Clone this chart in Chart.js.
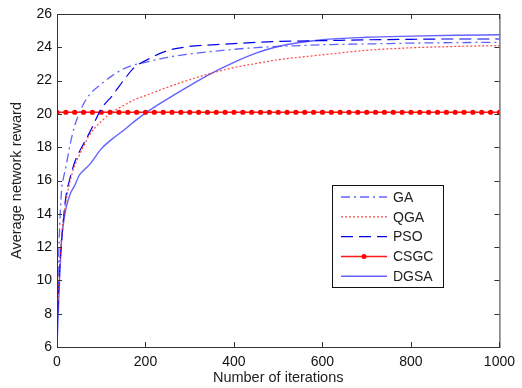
<!DOCTYPE html>
<html>
<head>
<meta charset="utf-8">
<script src="https://cdn.jsdelivr.net/npm/chart.js@4"></script>
<style>
  html, body { margin: 0; padding: 0; background: #fff; }
  #wrap { width: 522px; height: 388px; }
</style>
</head>
<body>
<div id="wrap"><canvas id="chart-1" width="522" height="388"></canvas></div>
<script>
// iterations shared by the four curves
const iterations = [0, 5, 10, 15, 20, 30, 40, 50, 60, 75, 100, 125, 150, 175, 200,
  250, 300, 350, 400, 450, 500, 600, 700, 800, 900, 1000];

const gaValues = [8, 12.5, 15.3, 16.2, 16.8, 18.2, 19.3, 20.0, 20.6, 21.2, 21.8, 22.3, 22.7, 22.95, 23.1,
  23.4, 23.6, 23.75, 23.88, 23.98, 24.05, 24.15, 24.2, 24.25, 24.28, 24.3];
const qgaValues = [7.5, 10.5, 12.5, 13.8, 14.7, 16.0, 16.9, 17.5, 18.05, 18.8, 19.55, 20.1, 20.5, 20.85, 21.1,
  21.6, 22.05, 22.45, 22.78, 23.03, 23.25, 23.55, 23.82, 23.97, 24.05, 24.1];
const psoValues = [7, 10.2, 12.2, 13.8, 15.0, 16.2, 17.1, 17.7, 18.2, 18.95, 20.3, 21.1, 22.0, 22.8, 23.2,
  23.8, 24.05, 24.15, 24.22, 24.3, 24.35, 24.4, 24.45, 24.48, 24.5, 24.5];
const dgsaValues = [6, 9.5, 12.3, 13.5, 14.3, 15.2, 15.7, 16.3, 16.6, 17.0, 17.9, 18.5, 19.0, 19.55, 20.05,
  20.9, 21.7, 22.45, 23.1, 23.65, 24.05, 24.45, 24.6, 24.67, 24.72, 24.75];

// CSGC is flat, marked every 20 iterations
const csgcIterations = [0, 20, 40, 60, 80, 100, 120, 140, 160, 180, 200, 220, 240, 260, 280, 300,
  320, 340, 360, 380, 400, 420, 440, 460, 480, 500, 520, 540, 560, 580, 600, 620, 640, 660, 680, 700,
  720, 740, 760, 780, 800, 820, 840, 860, 880, 900, 920, 940, 960, 980, 1000];
const csgcValues = [20.1, 20.1, 20.1, 20.1, 20.1, 20.1, 20.1, 20.1, 20.1, 20.1, 20.1, 20.1, 20.1, 20.1, 20.1, 20.1,
  20.1, 20.1, 20.1, 20.1, 20.1, 20.1, 20.1, 20.1, 20.1, 20.1, 20.1, 20.1, 20.1, 20.1, 20.1, 20.1, 20.1, 20.1, 20.1, 20.1,
  20.1, 20.1, 20.1, 20.1, 20.1, 20.1, 20.1, 20.1, 20.1, 20.1, 20.1, 20.1, 20.1, 20.1, 20.1];

const xTicks = [0, 200, 400, 600, 800, 1000];
const yTicks = [6, 8, 10, 12, 14, 16, 18, 20, 22, 24, 26];

const pts = (xs, ys) => xs.map((x, i) => ({ x: x, y: ys[i] }));

const FONT = "'Liberation Sans', Arial, sans-serif";

// MATLAB-like box, inward ticks and boxed legend
const matlabBox = {
  id: "matlabBox",
  afterDraw(chart) {
    const { ctx, chartArea: a, scales } = chart;
    ctx.save();
    ctx.strokeStyle = "#333";
    ctx.lineWidth = 1;
    ctx.strokeRect(a.left + 0.5, a.top + 0.5, a.right - a.left, a.bottom - a.top);
    ctx.beginPath();
    xTicks.forEach(v => {
      const x = Math.round(scales.x.getPixelForValue(v)) + 0.5;
      ctx.moveTo(x, a.bottom); ctx.lineTo(x, a.bottom - 5);
      ctx.moveTo(x, a.top); ctx.lineTo(x, a.top + 5);
    });
    yTicks.forEach(v => {
      const y = Math.round(scales.y.getPixelForValue(v)) + 0.5;
      ctx.moveTo(a.left, y); ctx.lineTo(a.left + 5, y);
      ctx.moveTo(a.right, y); ctx.lineTo(a.right - 5, y);
    });
    ctx.stroke();

    // legend
    const bx = 332, by = 185, bw = 111, bh = 102;
    ctx.fillStyle = "#fff";
    ctx.fillRect(bx, by, bw, bh);
    ctx.strokeStyle = "#111";
    ctx.strokeRect(bx + 0.5, by + 0.5, bw, bh);
    ctx.font = "14px " + FONT;
    ctx.textBaseline = "middle";
    chart.data.datasets.forEach((ds, i) => {
      const y = 197 + i * 19.8;
      ctx.strokeStyle = ds.borderColor;
      ctx.lineWidth = ds.borderWidth;
      ctx.setLineDash(ds.borderDash || []);
      ctx.beginPath();
      ctx.moveTo(341, y); ctx.lineTo(387, y);
      ctx.stroke();
      ctx.setLineDash([]);
      if (ds.pointRadius > 0) {
        ctx.fillStyle = ds.pointBackgroundColor;
        ctx.beginPath();
        ctx.arc(364, y, 2.5, 0, Math.PI * 2);
        ctx.fill();
      }
      ctx.fillStyle = "#222";
      ctx.fillText(ds.label, 393, y + 1);
    });
    ctx.restore();
  }
};

const curve = (label, data, color, dash, width) => ({
  label: label,
  data: data,
  borderColor: color,
  borderWidth: width,
  borderDash: dash,
  pointRadius: 0,
  cubicInterpolationMode: "monotone",
  fill: false
});

const ctx1 = document.getElementById("chart-1").getContext("2d");
const myChart = new Chart(ctx1, {
  type: "line",
  data: {
    datasets: [
      curve("GA", pts(iterations, gaValues), "rgba(70,70,255,0.85)", [9, 4, 2, 4], 1.3),
      curve("QGA", pts(iterations, qgaValues), "rgba(255,40,40,0.85)", [2, 2], 1.2),
      curve("PSO", pts(iterations, psoValues), "#0000ee", [12, 6], 1.2),
      {
        label: "CSGC",
        data: pts(csgcIterations, csgcValues),
        borderColor: "#ff1a1a",
        borderWidth: 1.5,
        pointRadius: 2.6,
        pointBackgroundColor: "#ff0000",
        pointBorderColor: "#ff0000",
        pointBorderWidth: 0,
        fill: false
      },
      curve("DGSA", pts(iterations, dgsaValues), "rgba(70,70,255,0.85)", [], 1.4)
    ]
  },
  options: {
    responsive: false,
    animation: false,
    layout: { padding: { top: 14, right: 18, left: 0, bottom: 0 } },
    plugins: { legend: { display: false }, tooltip: { enabled: false } },
    scales: {
      x: {
        type: "linear",
        min: 0,
        max: 1000,
        afterBuildTicks: s => { s.ticks = xTicks.map(v => ({ value: v })); },
        afterFit: s => { s.height = 41; },
        grid: { display: false, drawTicks: false },
        border: { display: false },
        ticks: {
          padding: 7, color: "#111", font: { family: FONT, size: 14 },
          callback: v => String(v)
        },
        title: {
          display: true,
          text: "Number of iterations",
          color: "#222",
          font: { family: FONT, size: 14.5 },
          padding: { top: 0, bottom: 1 }
        }
      },
      y: {
        min: 6,
        max: 26,
        afterBuildTicks: s => { s.ticks = yTicks.map(v => ({ value: v })); },
        afterFit: s => { s.width = 57; },
        grid: { display: false, drawTicks: false },
        border: { display: false },
        ticks: { padding: 5, color: "#111", font: { family: FONT, size: 14 } },
        title: {
          display: true,
          text: "Average network reward",
          color: "#222",
          font: { family: FONT, size: 14.5 },
          padding: { top: 8, bottom: 0 }
        }
      }
    }
  },
  plugins: [matlabBox]
});
</script>
</body>
</html>
